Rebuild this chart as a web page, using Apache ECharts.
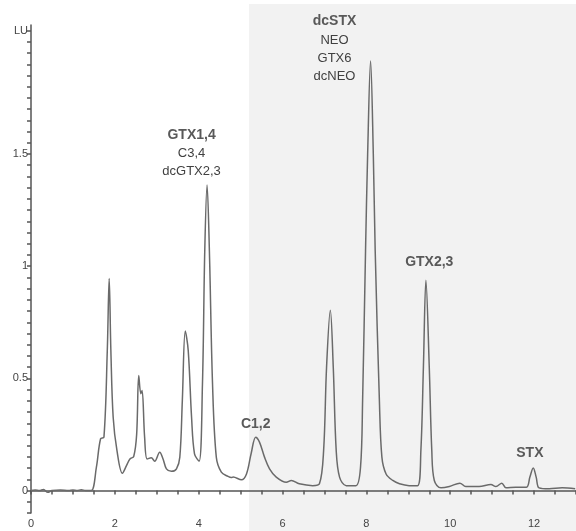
<!DOCTYPE html>
<html>
<head>
<meta charset="utf-8">
<script src="https://cdn.jsdelivr.net/npm/echarts@6/dist/echarts.min.js"></script>
<style>html,body{margin:0;padding:0;background:#fff}#c{width:576px;height:531px}</style>
</head>
<body>
<div id="c"></div>
<script>
// retention time (min)
const timeMin = [0,0.1,0.2,0.3,0.4,0.5,0.7,0.9,1.0,1.1,1.2,1.3,1.44,1.56,1.66,1.74,1.82,1.865,1.905,1.96,2.05,2.18,2.28,2.36,2.45,2.52,2.57,2.62,2.65,2.71,2.77,2.87,2.95,3.07,3.15,3.23,3.35,3.47,3.55,3.61,3.68,3.75,3.83,3.90,4.01,4.09,4.145,4.20,4.255,4.33,4.42,4.54,4.70,4.78,4.82,5.02,5.14,5.25,5.36,5.45,5.57,5.69,5.85,6.09,6.21,6.40,6.72,6.88,6.98,7.05,7.14,7.21,7.28,7.36,7.52,7.75,7.86,7.91,7.98,8.03,8.10,8.165,8.21,8.31,8.37,8.47,8.63,8.79,9.02,9.22,9.30,9.36,9.42,9.50,9.56,9.62,9.78,9.98,10.23,10.37,10.69,10.97,11.09,11.23,11.33,11.56,11.82,11.90,11.98,12.05,12.12,12.36,12.67,12.98];
// fluorescence signal (LU)
const signalLU = [0,0.002,0,0.005,-0.008,0,0.002,0,0.003,0,0.004,0,0,0.104,0.231,0.238,0.625,0.945,0.625,0.327,0.179,0.077,0.112,0.141,0.152,0.25,0.513,0.432,0.446,0.238,0.141,0.146,0.131,0.171,0.141,0.097,0.086,0.097,0.149,0.402,0.711,0.625,0.327,0.164,0.131,0.476,1.07,1.362,1.07,0.476,0.149,0.082,0.063,0.058,0.060,0.048,0.074,0.164,0.238,0.216,0.149,0.097,0.060,0.037,0.045,0.030,0.022,0.030,0.179,0.55,0.804,0.55,0.179,0.060,0.022,0.022,0.104,0.402,1.07,1.5,1.915,1.5,1.07,0.402,0.149,0.074,0.045,0.030,0.022,0.022,0.179,0.55,0.9375,0.55,0.179,0.045,0.012,0.018,0.033,0.018,0.018,0.027,0.018,0.033,0.012,0.015,0.015,0.060,0.101,0.060,0.012,0.008,0.012,0.008];
// peak annotations: [x, y, bold title, other lines]
const peakLabels = [
  [3.83, 1.505, 'GTX1,4', ['C3,4','dcGTX2,3']],
  [7.24, 1.97, 'dcSTX', ['NEO','GTX6','dcNEO']],
  [5.36, 0.295, 'C1,2', []],
  [9.5, 1.018, 'GTX2,3', []],
  [11.9, 0.165, 'STX', []]
];
const shadeStart = 5.2;
const xTickValues = [];
for (let i = 0; i <= 26; i++) xTickValues.push(i * 0.5);
const xLabelValues = [0,2,4,6,8,10,12];
const yTickValues = [];
for (let i = -2; i <= 41; i++) yTickValues.push(Math.round(i * 5) / 100);
const yLabelValues = [0,0.5,1,1.5,2.05];

const chart = echarts.init(document.getElementById('c'));
const font = '"Liberation Sans", Arial, sans-serif';
chart.setOption({
  animation: false,
  backgroundColor: '#ffffff',
  grid: {left: 31, right: 0, top: 25, bottom: 18},
  xAxis: {
    type: 'value', min: 0, max: 13,
    axisLine: {lineStyle: {color: '#555', width: 1.5}},
    axisTick: {customValues: xTickValues, length: 4, lineStyle: {color: '#555', width: 1.5}},
    axisLabel: {customValues: xLabelValues, color: '#444', fontSize: 11, fontFamily: font, margin: 5},
    splitLine: {show: false}
  },
  yAxis: {
    type: 'value', min: -0.1, max: 2.075,
    axisLine: {show: true, lineStyle: {color: '#555', width: 1.5}},
    axisTick: {show: true, customValues: yTickValues, length: 4, lineStyle: {color: '#555', width: 1.5}},
    axisLabel: {customValues: yLabelValues, color: '#444', fontSize: 11, fontFamily: font, margin: 3,
      formatter: v => v > 2 ? 'LU' : String(v)},
    splitLine: {show: false}
  },
  series: [{
    type: 'line',
    data: timeMin.map((t, i) => [t, signalLU[i]]),
    showSymbol: false,
    smooth: 0.35,
    lineStyle: {color: '#6a6a6a', width: 1.5},
    z: 3,
    markPoint: {
      symbol: 'circle', symbolSize: 0,
      data: peakLabels.map(p => ({
        coord: [p[0], p[1]],
        label: {
          show: true, position: 'inside',
          formatter: ['{b|' + p[2] + '}'].concat(p[3].map(s => '{n|' + s + '}')).join('\n'),
          rich: {
            b: {fontSize: 14, fontWeight: 'bold', color: '#595959', fontFamily: font, lineHeight: 19, align: 'center'},
            n: {fontSize: 13, color: '#404040', fontFamily: font, lineHeight: 18, align: 'center'}
          }
        }
      }))
    }
  }]
});
const sx = chart.convertToPixel({xAxisIndex: 0}, shadeStart);
chart.setOption({
  graphic: [{
    type: 'rect', z: -10, silent: true,
    shape: {x: sx, y: 4, width: 576 - sx, height: 531},
    style: {fill: '#f2f2f2'}
  }]
});
</script>
</body>
</html>
